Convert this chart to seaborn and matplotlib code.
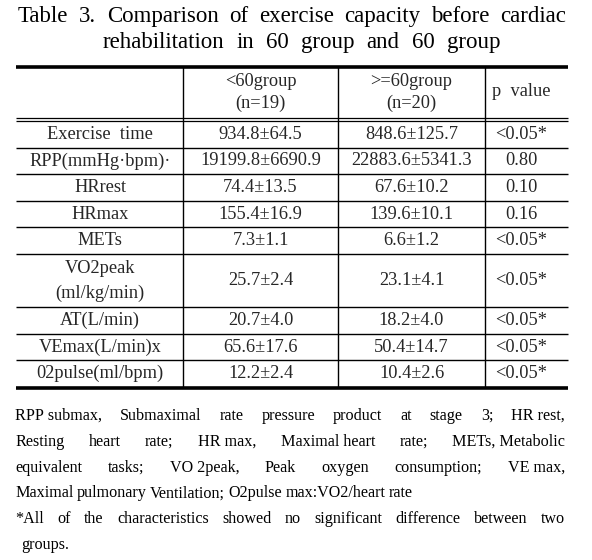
import matplotlib
matplotlib.use("Agg")
import matplotlib.pyplot as plt
import seaborn as sns

# table content
title_lines = ["Table 3. Comparison of exercise capacity before cardiac",
               "rehabilitation in 60 group and 60 group"]
group_headers = [["<60group", "(n=19)"], [">=60group", "(n=20)"]]
p_header = "p  value"
row_labels = ["Exercise  time", "RPP(mmHg·bpm)·", "HRrest", "HRmax", "METs",
              "VO2peak\n(ml/kg/min)", "AT(L/min)", "VEmax(L/min)x", "02pulse(ml/bpm)"]
under60 = ["934.8±64.5", "19199.8±6690.9", "74.4±13.5", "155.4±16.9", "7.3±1.1",
           "25.7±2.4", "20.7±4.0", "65.6±17.6", "12.2±2.4"]
over60 = ["848.6±125.7", "22883.6±5341.3", "67.6±10.2", "139.6±10.1", "6.6±1.2",
          "23.1±4.1", "18.2±4.0", "50.4±14.7", "10.4±2.6"]
p_values = ["<0.05*", "0.80", "0.10", "0.16", "<0.05*", "<0.05*", "<0.05*", "<0.05*", "<0.05*"]
notes = [
    "RPP\u00a0submax, Submaximal rate pressure product at stage 3; HR\u00a0rest,",
    "Resting heart rate; HR\u00a0max, Maximal\u00a0heart rate; METs,\u00a0Metabolic",
    "equivalent tasks; VO\u00a02peak, Peak oxygen consumption; VE\u00a0max,",
    "Maximal pulmonary Ventilation; O2pulse max:VO2/heart rate",
    "*All of the characteristics showed no significant difference between two",
    "groups.",
]
notes_justified = [True, True, True, False, True, False]

sns.set_theme(style="white")
plt.rcParams['font.family'] = ['Liberation Serif', 'DejaVu Serif']

fig = plt.figure(figsize=(5.92, 5.60), dpi=100)
ax = fig.add_axes([0, 0, 1, 1])
ax.set_xlim(0, 592)
ax.set_ylim(560, 0)
ax.axis("off")
renderer = fig.canvas.get_renderer()


def put_line(text, x0, x1, y, size, justify=True):
    """Write one line of words, spread out to fill x0..x1 like justified print."""
    words = text.split(" ")
    items = [ax.text(0, y, w, fontsize=size, va="baseline", ha="left", color="black") for w in words]
    widths = [t.get_window_extent(renderer).width for t in items]
    if justify and len(words) > 1:
        gap = (x1 - x0 - sum(widths)) / (len(words) - 1)
    else:
        gap = size * 0.3
    x = x0
    for t, w in zip(items, widths):
        t.set_x(x)
        x += w + gap


# title
put_line(title_lines[0], 18, 566, 21.7, 16.5)
put_line(title_lines[1], 103, 500, 48, 16.5)

# table grid
left, right = 16, 568
col_edges = [left, 183, 338, 485, right]
text_x = [100, 260.5, 411.5, 521]
top, head_bottom = 67, 117.5
body_top = 121
unit = (387 - body_top) / 10
row_units = [2 if "\n" in lab else 1 for lab in row_labels]
row_edges = [body_top]
for u in row_units:
    row_edges.append(row_edges[-1] + u * unit)
bottom = row_edges[-1]

ax.hlines(top, left, right, color="black", linewidth=2.6)
ax.hlines([head_bottom, body_top - 0.3], left, right, color="black", linewidth=0.9)
ax.hlines(row_edges[1:-1], left, right, color="black", linewidth=1.0)
ax.hlines(bottom + 0.5, left, right, color="black", linewidth=2.6)
ax.vlines(col_edges[1:-1], top, bottom, color="black", linewidth=1.0)

fs = 13.2
for (l1, l2), x in zip(group_headers, text_x[1:3]):
    ax.text(x, 82, l1, fontsize=fs, ha="center", va="center")
    ax.text(x, 103, l2, fontsize=fs, ha="center", va="center")
ax.text(text_x[3], 92, p_header, fontsize=fs, ha="center", va="center")

for i, lab in enumerate(row_labels):
    yc = (row_edges[i] + row_edges[i + 1]) / 2
    parts = lab.split("\n")
    if len(parts) == 2:
        ax.text(text_x[0], yc - 12.5, parts[0], fontsize=fs, ha="center", va="center")
        ax.text(text_x[0], yc + 12.5, parts[1], fontsize=fs, ha="center", va="center")
    else:
        ax.text(text_x[0], yc, lab, fontsize=fs, ha="center", va="center")
    ax.text(text_x[1], yc, under60[i], fontsize=fs, ha="center", va="center")
    ax.text(text_x[2], yc, over60[i], fontsize=fs, ha="center", va="center")
    ax.text(text_x[3], yc, p_values[i], fontsize=fs, ha="center", va="center")

# footnotes
for i, (line, just) in enumerate(zip(notes, notes_justified)):
    x0 = 21 if line == "groups." else 15
    put_line(line, x0, 565, 420 + i * 25.8, 11.6, justify=just)

fig.savefig("out.png", dpi=100, facecolor="white")
